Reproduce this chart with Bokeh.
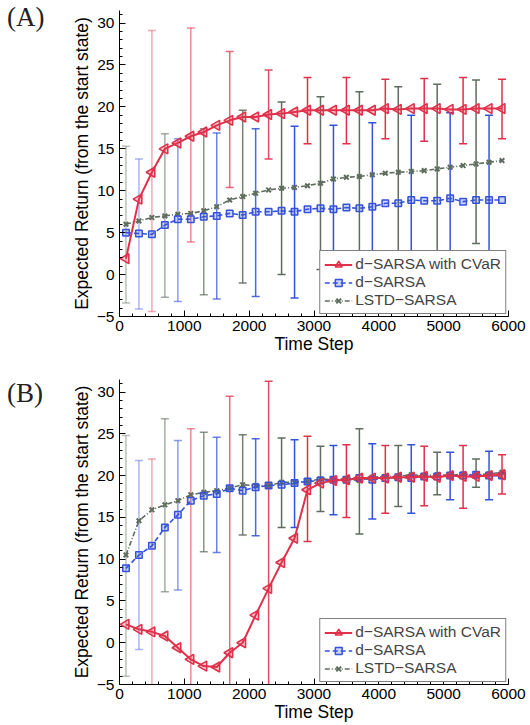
import math
from bokeh.plotting import figure
from bokeh.layouts import column, row
from bokeh.models import Range1d, SingleIntervalTicker, Legend, LegendItem, Div
from bokeh.embed import file_html
from bokeh.resources import INLINE

# ---------------- data ----------------
steps = [100, 300, 500, 700, 900, 1100, 1300, 1500, 1700, 1900,
         2100, 2300, 2500, 2700, 2900, 3100, 3300, 3500, 3700, 3900,
         4100, 4300, 4500, 4700, 4900, 5100, 5300, 5500, 5700, 5900]

# Panel A
cvar_A = [1.9, 9.0, 12.2, 15.0, 15.7, 16.5, 17.0, 17.8, 18.4, 18.8,
          18.8, 19.1, 19.2, 19.4, 19.6, 19.6, 19.6, 19.6, 19.6, 19.6,
          19.8, 19.7, 19.8, 19.8, 19.8, 19.7, 19.7, 19.8, 19.8, 19.8]
dsarsa_A = [5.0, 4.9, 4.8, 5.9, 6.6, 6.6, 6.9, 7.0, 7.3, 7.1,
            7.5, 7.5, 7.6, 7.5, 7.8, 7.9, 7.8, 8.0, 7.9, 8.1,
            8.5, 8.5, 8.9, 8.8, 8.8, 9.1, 8.7, 8.9, 8.9, 8.9]
lstd_A = [6.0, 6.4, 6.8, 7.0, 7.2, 7.3, 7.6, 8.1, 8.9, 9.3,
          9.7, 10.1, 10.3, 10.4, 10.6, 10.9, 11.4, 11.6, 11.7, 11.9,
          12.1, 12.2, 12.3, 12.4, 12.6, 12.8, 13.0, 13.2, 13.4, 13.6]

cvar_err_x = [500, 1100, 1700, 2300, 2900, 3500, 4100, 4700, 5300, 5900]
dsarsa_err_x = [300, 900, 1500, 2100, 2700, 3300, 3900, 4500, 5100, 5700]
lstd_err_x = [100, 700, 1300, 1900, 2500, 3100, 3700, 4300, 4900, 5500]

cvar_A_hi = [29.1, 29.4, 26.6, 24.4, 23.5, 23.5, 23.3, 23.4, 23.5, 23.3]
cvar_A_lo = [-4.4, 3.9, 10.4, 13.8, 15.6, 15.6, 16.2, 15.9, 15.6, 16.2]
dsarsa_A_hi = [13.8, 16.2, 16.9, 17.4, 17.7, 17.8, 18.1, 19.0, 19.3, 19.0]
dsarsa_A_lo = [-4.1, -3.2, -2.9, -2.6, -2.8, -2.2, -1.9, -1.2, -1.1, -1.2]
lstd_A_hi = [15.3, 16.8, 17.4, 19.6, 20.6, 21.2, 21.8, 22.4, 22.7, 23.2]
lstd_A_lo = [-3.4, -2.7, -2.4, -1.0, 0.0, 0.6, 1.6, 2.0, 2.8, 3.7]

# Panel B
cvar_B = [2.2, 1.6, 1.3, 0.8, -0.6, -2.0, -2.8, -2.9, -1.2, 0.0,
          3.3, 6.5, 9.6, 12.5, 18.3, 19.1, 19.4, 19.5, 19.7, 19.7,
          19.7, 19.8, 19.8, 19.9, 19.8, 20.0, 19.9, 19.9, 20.0, 20.1]
dsarsa_B = [8.9, 10.5, 11.6, 13.8, 15.3, 17.0, 17.6, 17.8, 18.5, 18.2,
            18.6, 18.8, 18.9, 19.1, 19.3, 19.4, 19.5, 19.5, 19.7, 19.5,
            19.7, 19.8, 19.7, 19.9, 19.9, 20.0, 20.0, 20.1, 20.0, 20.0]
lstd_B = [10.5, 14.6, 15.9, 16.5, 17.0, 17.7, 18.0, 18.2, 18.5, 18.9,
          18.8, 18.8, 19.2, 19.2, 19.3, 19.6, 19.5, 19.6, 19.4, 19.8,
          19.9, 19.9, 20.1, 20.0, 20.1, 20.0, 20.2, 20.1, 20.2, 20.4]

cvar_B_hi = [22.0, 25.6, 29.5, 31.3, 24.7, 23.7, 23.6, 23.5, 23.6, 22.5]
cvar_B_lo = [-19.4, -29.6, -31.9, -18.4, 12.1, 15.0, 15.5, 16.4, 16.1, 17.8]
dsarsa_B_hi = [21.8, 24.2, 24.6, 24.4, 24.3, 23.6, 23.8, 23.7, 22.8, 22.9]
dsarsa_B_lo = [-0.8, 6.3, 10.8, 12.8, 13.8, 15.3, 14.8, 15.5, 17.1, 17.1]
lstd_B_hi = [24.8, 26.8, 25.2, 24.9, 24.5, 23.5, 25.6, 23.6, 22.8, 22.0]
lstd_B_lo = [-4.0, 6.1, 10.9, 12.9, 13.8, 15.7, 13.0, 16.3, 17.7, 18.6]

x_ticks_interval = 1000
y_ticks_interval = 5
labels = ["d\u2212SARSA with CVaR", "d\u2212SARSA", "LSTD\u2212SARSA"]

# ---------------- style ----------------
RED = "#e0304a"
BLUE = "#3552db"
GRAY = "#5e6d5e"
SANS = "Liberation Sans"
TAG_W = 60
LEFT_B = 59
FRAME_W = 389
RIGHT_B = 18


def err_alpha(n):
    return [min(1.0, 0.42 + 0.15 * i) for i in range(n)]


def errbars(p, ex, lo, hi, color):
    a = err_alpha(len(ex))
    p.segment(x0=ex, y0=lo, x1=ex, y1=hi, line_color=color, line_alpha=a, line_width=1.5)
    p.scatter(ex, hi, marker="dash", size=8, line_color=color, line_alpha=a, line_width=1.5)
    p.scatter(ex, lo, marker="dash", size=8, line_color=color, line_alpha=a, line_width=1.5)


def panel(cvar, dsarsa, lstd, errs, top_b, bot_b, height):
    p = figure(width=LEFT_B + FRAME_W + RIGHT_B, height=height,
               x_range=Range1d(0, 6000), y_range=Range1d(-5, 31.5),
               output_backend="svg", toolbar_location=None,
               min_border_left=LEFT_B, min_border_right=RIGHT_B,
               min_border_top=top_b, min_border_bottom=bot_b, margin=0)
    p.outline_line_color = None
    p.grid.visible = False
    p.background_fill_color = "white"

    (ce, de, le) = errs
    errbars(p, lstd_err_x, le[0], le[1], GRAY)
    errbars(p, dsarsa_err_x, de[0], de[1], BLUE)
    errbars(p, cvar_err_x, ce[0], ce[1], RED)

    gl = p.line(steps, lstd, line_color=GRAY, line_width=1.6, line_dash="5 2 1 2")
    gm = p.scatter(steps, lstd, marker="x", size=6.5, line_color=GRAY, line_width=2)
    bl = p.line(steps, dsarsa, line_color=BLUE, line_width=1.6, line_dash="5 3")
    bm = p.scatter(steps, dsarsa, marker="square", size=6.5, line_color=BLUE,
                   fill_color=BLUE, fill_alpha=0.25, line_width=1.5)
    rl = p.line(steps, cvar, line_color=RED, line_width=2)
    rm = p.scatter(steps, cvar, marker="triangle", angle=math.pi / 2, size=10,
                   line_color=RED, fill_color=RED, fill_alpha=0.25, line_width=1.6)

    leg = Legend(items=[LegendItem(label=labels[0], renderers=[rl, rm]),
                        LegendItem(label=labels[1], renderers=[bl, bm]),
                        LegendItem(label=labels[2], renderers=[gl, gm])],
                 location="bottom_right")
    leg.margin = 2
    leg.padding = 4
    leg.spacing = 0
    leg.label_height = 17
    leg.glyph_height = 17
    leg.glyph_width = 28
    leg.label_standoff = 3
    leg.label_text_font = SANS
    leg.label_text_font_size = "15.5px"
    leg.border_line_color = "black"
    leg.border_line_width = 1
    leg.background_fill_alpha = 1.0
    p.add_layout(leg)

    p.xaxis.ticker = SingleIntervalTicker(interval=x_ticks_interval, num_minor_ticks=5)
    p.yaxis.ticker = SingleIntervalTicker(interval=y_ticks_interval, num_minor_ticks=5)
    p.xaxis.axis_label = "Time Step"
    p.yaxis.axis_label = "Expected Return (from the start state)"
    for ax in (p.xaxis[0], p.yaxis[0]):
        ax.major_tick_in = 6
        ax.major_tick_out = 0
        ax.minor_tick_in = 3
        ax.minor_tick_out = 0
        ax.axis_line_color = "black"
        ax.major_tick_line_color = "black"
        ax.minor_tick_line_color = "black"
        ax.major_label_text_font = SANS
        ax.major_label_text_font_size = "15.5px"
        ax.major_label_text_color = "black"
        ax.axis_label_text_font = SANS
        ax.axis_label_text_font_size = "17.5px"
        ax.axis_label_text_font_style = "normal"
        ax.axis_label_text_color = "black"
    p.yaxis.axis_label_standoff = 2
    p.xaxis.axis_label_standoff = 0
    p.xaxis.major_label_standoff = 4
    return p


def tag_div(text, top, height):
    html = ('<div style="position:relative; left:7px; top:%dpx; '
            'font-family:\'Liberation Serif\', serif; font-size:27px; line-height:1; '
            'color:#222222;">%s</div>' % (top, text))
    return Div(text=html, width=TAG_W, height=height, margin=0)


H_A = 360
H_B = 364
pA = panel(cvar_A, dsarsa_A, lstd_A,
           ((cvar_A_lo, cvar_A_hi), (dsarsa_A_lo, dsarsa_A_hi), (lstd_A_lo, lstd_A_hi)),
           10, 44, H_A)
pB = panel(cvar_B, dsarsa_B, lstd_B,
           ((cvar_B_lo, cvar_B_hi), (dsarsa_B_lo, dsarsa_B_hi), (lstd_B_lo, lstd_B_hi)),
           19, 39, H_B)

layout = column(row(tag_div("(A)", 4, H_A), pA, spacing=0, margin=0),
                row(tag_div("(B)", 20, H_B), pB, spacing=0, margin=0),
                spacing=0, margin=0)
open("out.html", "w").write(file_html(layout, INLINE))
